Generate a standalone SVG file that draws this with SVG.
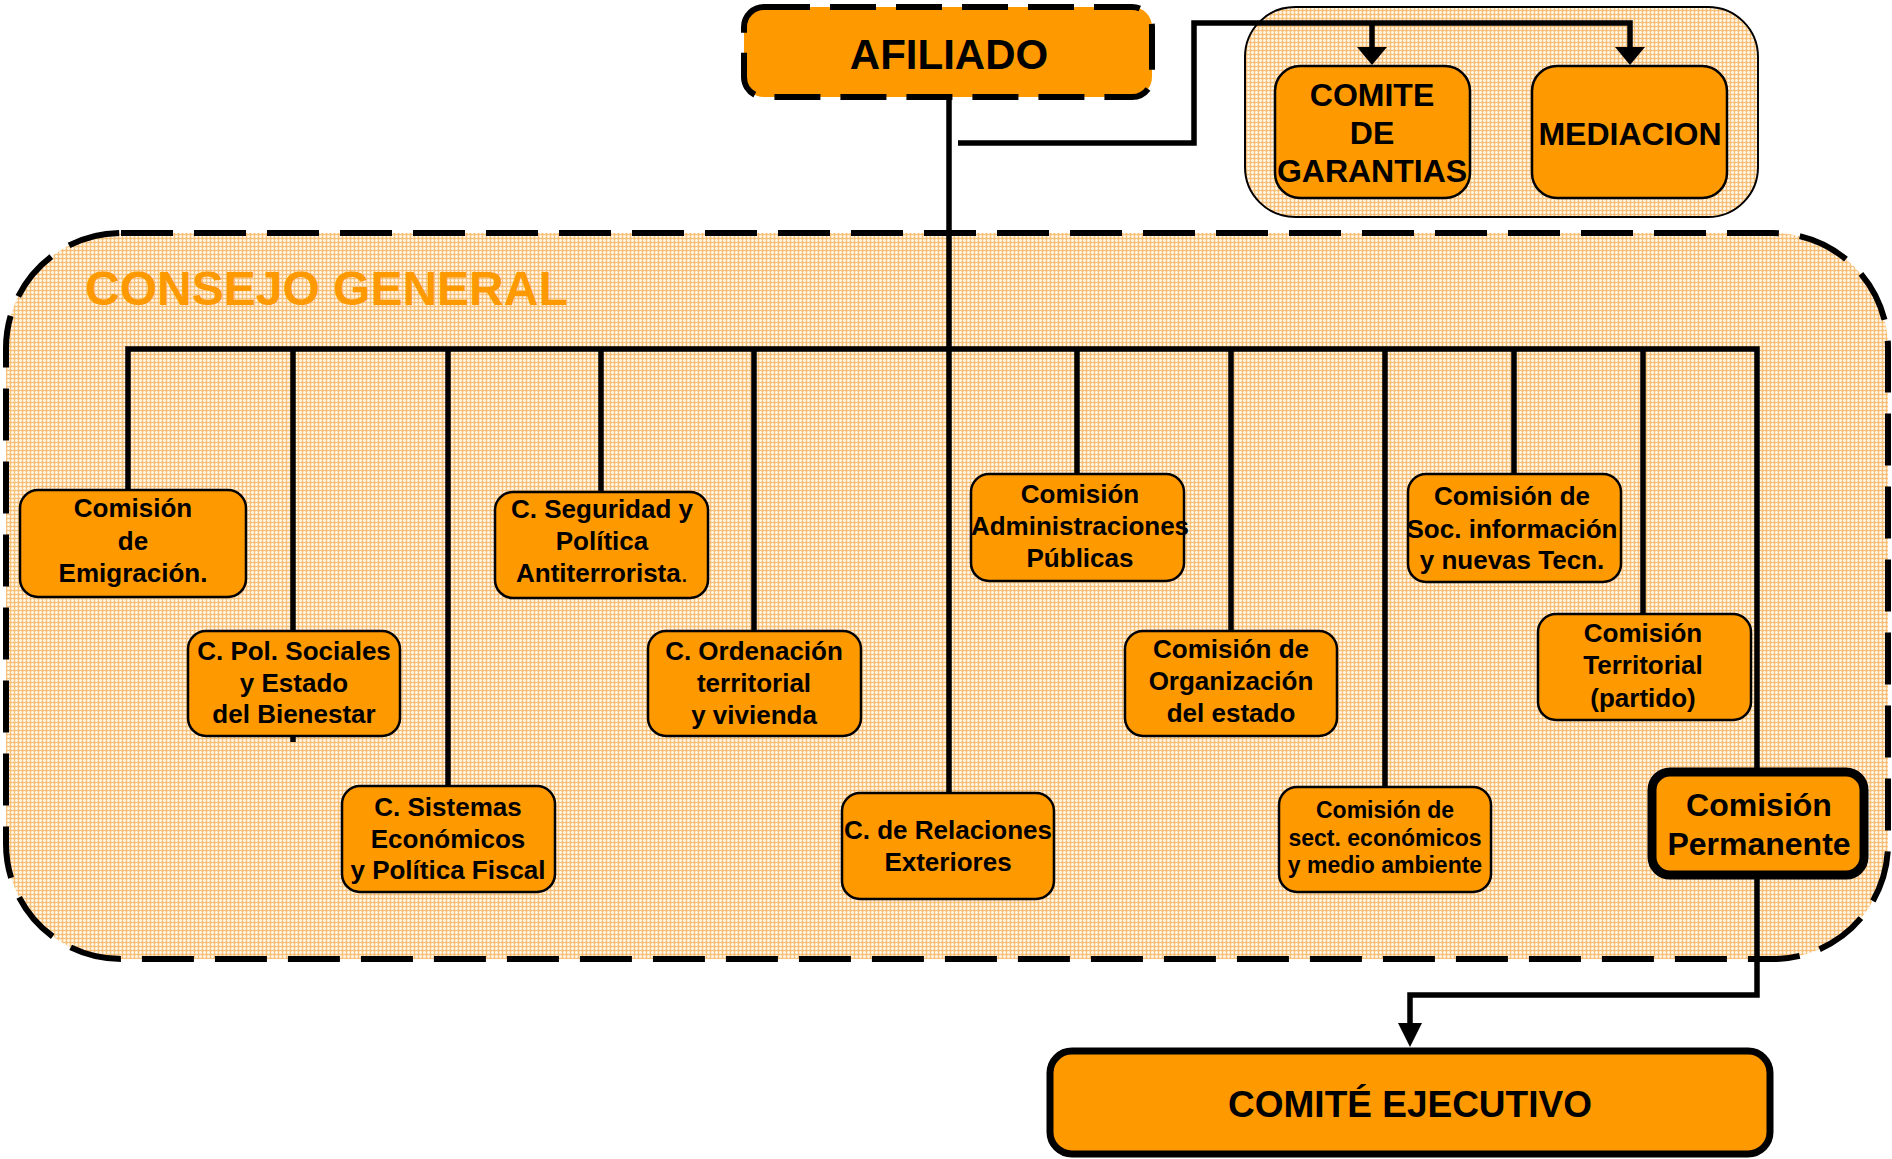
<svg xmlns="http://www.w3.org/2000/svg" width="1892" height="1159" viewBox="0 0 1892 1159">
<defs>
<pattern id="mesh" width="4" height="4" patternUnits="userSpaceOnUse">
<rect width="4" height="4" fill="#FDDFB6"/>
<rect width="4" height="1" fill="#FFF4E6"/>
<rect width="1" height="4" fill="#FFF4E6"/>
<rect y="2" width="4" height="1" fill="#F9C07A"/>
<rect x="2" width="1" height="4" fill="#F9C07A"/>
</pattern>
<marker id="arrA" markerUnits="userSpaceOnUse" viewBox="0 0 18 30" markerWidth="18" markerHeight="30" refX="1" refY="15" orient="auto">
<path d="M0,0 L18,15 L0,30 z" fill="#000"/>
</marker>
<marker id="arrB" markerUnits="userSpaceOnUse" viewBox="0 0 24 24" markerWidth="24" markerHeight="24" refX="1" refY="12" orient="auto">
<path d="M0,0 L24,12 L0,24 z" fill="#000"/>
</marker>
</defs>
<style>
.box{fill:#FF9900;stroke:#000;stroke-width:2.5}
.t{font-family:"Liberation Sans",Arial,sans-serif;font-weight:bold;fill:#000;text-anchor:middle}
.s26{font-size:26px}
.s23{font-size:23px}
.s32{font-size:32px}
.con{fill:none;stroke:#000;stroke-width:5.5}
.group{fill:url(#mesh)}
</style>
<rect width="1892" height="1159" fill="#fff"/>

<g id="consejo-general">
<rect class="group" x="6" y="233" width="1882" height="726" rx="115" ry="115" stroke="#000" stroke-width="6" stroke-dasharray="52 21"/>
<text x="85" y="305" font-family="'Liberation Sans',Arial,sans-serif" font-weight="bold" font-size="48" fill="#FF9900">CONSEJO GENERAL</text>
</g>

<g id="garantias-group">
<rect class="group" x="1245" y="7" width="513" height="210" rx="50" ry="50" stroke="#000" stroke-width="2"/>
</g>

<g id="connectors">
<path class="con" d="M949,97 V793"/>
<path class="con" d="M958,143 H1194 V23 H1630 V48" marker-end="url(#arrA)"/>
<path class="con" d="M1372,23 V48" marker-end="url(#arrA)"/>
<path class="con" d="M128,490 V349 H1757 V770"/>
<path class="con" d="M293,349 V742"/>
<path class="con" d="M448,349 V786"/>
<path class="con" d="M601,349 V492"/>
<path class="con" d="M754,349 V631"/>
<path class="con" d="M1077,349 V474"/>
<path class="con" d="M1231,349 V631"/>
<path class="con" d="M1385,349 V787"/>
<path class="con" d="M1514,349 V474"/>
<path class="con" d="M1643,349 V614"/>
<path class="con" d="M1757,878 V995 H1410 V1024" stroke-width="6.5" marker-end="url(#arrB)"/>
</g>

<g id="afiliado">
<rect x="744" y="7" width="408" height="90" rx="20" ry="20" fill="#FF9900" stroke="#000" stroke-width="6" stroke-dasharray="46 20"/>
<text class="t" x="949" y="69" font-size="42">AFILIADO</text>
</g>

<g id="comite-garantias">
<rect class="box" x="1275" y="66" width="195" height="132" rx="25"/>
<text class="t s32" x="1372"><tspan x="1372" y="106">COMITE</tspan><tspan x="1372" y="144">DE</tspan><tspan x="1372" y="182">GARANTIAS</tspan></text>
</g>

<g id="mediacion">
<rect class="box" x="1532" y="66" width="195" height="132" rx="25"/>
<text class="t s32" x="1630" y="145">MEDIACION</text>
</g>

<g id="emigracion">
<rect class="box" x="20" y="490" width="226" height="107" rx="18"/>
<text class="t s26"><tspan x="133" y="517">Comisión</tspan><tspan x="133" y="550">de</tspan><tspan x="133" y="582">Emigración.</tspan></text>
</g>

<g id="pol-sociales">
<rect class="box" x="188" y="631" width="212" height="105" rx="18"/>
<text class="t s26"><tspan x="294" y="660">C. Pol. Sociales</tspan><tspan x="294" y="692">y Estado</tspan><tspan x="294" y="723">del Bienestar</tspan></text>
</g>

<g id="sistemas">
<rect class="box" x="342" y="786" width="213" height="106" rx="18"/>
<text class="t s26"><tspan x="448" y="816">C. Sistemas</tspan><tspan x="448" y="848">Económicos</tspan><tspan x="448" y="879">y Política Fiscal</tspan></text>
</g>

<g id="seguridad">
<rect class="box" x="495" y="492" width="213" height="106" rx="18"/>
<text class="t s26"><tspan x="602" y="518">C. Seguridad y</tspan><tspan x="602" y="550">Política</tspan><tspan x="602" y="582">Antiterrorista<tspan font-weight="normal">.</tspan></tspan></text>
</g>

<g id="ordenacion">
<rect class="box" x="648" y="631" width="213" height="105" rx="18"/>
<text class="t s26"><tspan x="754" y="660">C. Ordenación</tspan><tspan x="754" y="692">territorial</tspan><tspan x="754" y="724">y vivienda</tspan></text>
</g>

<g id="relaciones">
<rect class="box" x="842" y="793" width="212" height="106" rx="18"/>
<text class="t s26"><tspan x="948" y="839">C. de Relaciones</tspan><tspan x="948" y="871">Exteriores</tspan></text>
</g>

<g id="administraciones">
<rect class="box" x="971" y="474" width="213" height="107" rx="18"/>
<text class="t s26"><tspan x="1080" y="503">Comisión</tspan><tspan x="1080" y="535">Administraciones</tspan><tspan x="1080" y="567">Públicas</tspan></text>
</g>

<g id="organizacion">
<rect class="box" x="1125" y="631" width="212" height="105" rx="18"/>
<text class="t s26"><tspan x="1231" y="658">Comisión de</tspan><tspan x="1231" y="690">Organización</tspan><tspan x="1231" y="722">del estado</tspan></text>
</g>

<g id="sect-economicos">
<rect class="box" x="1279" y="787" width="212" height="105" rx="18"/>
<text class="t s23"><tspan x="1385" y="818">Comisión de</tspan><tspan x="1385" y="846">sect. económicos</tspan><tspan x="1385" y="873">y medio ambiente</tspan></text>
</g>

<g id="soc-informacion">
<rect class="box" x="1408" y="474" width="213" height="108" rx="18"/>
<text class="t s26"><tspan x="1512" y="505">Comisión de</tspan><tspan x="1512" y="538">Soc. información</tspan><tspan x="1512" y="569">y nuevas Tecn.</tspan></text>
</g>

<g id="territorial">
<rect class="box" x="1538" y="614" width="213" height="106" rx="18"/>
<text class="t s26"><tspan x="1643" y="642">Comisión</tspan><tspan x="1643" y="674">Territorial</tspan><tspan x="1643" y="707">(partido)</tspan></text>
</g>

<g id="permanente">
<rect x="1652" y="772" width="212" height="103" rx="18" fill="#FF9900" stroke="#000" stroke-width="9"/>
<text class="t s32"><tspan x="1759" y="816">Comisión</tspan><tspan x="1759" y="855">Permanente</tspan></text>
</g>

<g id="comite-ejecutivo">
<rect x="1050" y="1051" width="720" height="103" rx="22" fill="#FF9900" stroke="#000" stroke-width="7"/>
<text class="t" x="1410" y="1117" font-size="37">COMITÉ EJECUTIVO</text>
</g>
</svg>
